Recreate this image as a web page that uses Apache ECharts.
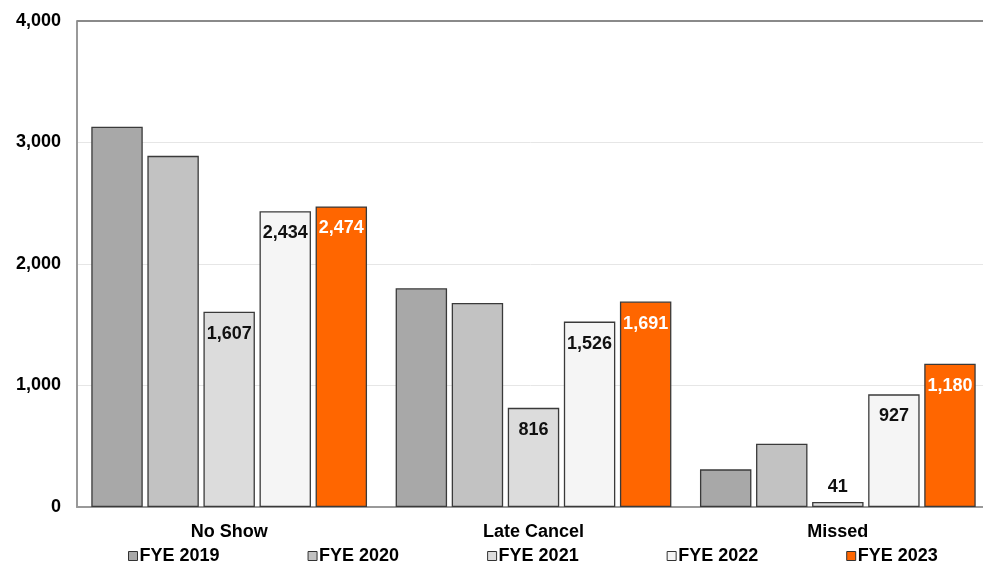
<!DOCTYPE html>
<html>
<head>
<meta charset="utf-8">
<script src="https://cdn.jsdelivr.net/npm/echarts@6/dist/echarts.min.js"></script>
<style>html,body{margin:0;padding:0;background:#fff}#c{width:983px;height:568px}</style>
</head>
<body>
<div id="c"></div>
<script>
const categories = ['No Show', 'Late Cancel', 'Missed'];
const seriesNames = ['FYE 2019', 'FYE 2020', 'FYE 2021', 'FYE 2022', 'FYE 2023'];
const fye2019 = [3130, 1800, 310];
const fye2020 = [2890, 1680, 520];
const fye2021 = [1607, 816, 41];
const fye2022 = [2434, 1526, 927];
const fye2023 = [2474, 1691, 1180];
const yTicks = [0, 1000, 2000, 3000, 4000];

const colors = ['#a8a8a8', '#c2c2c2', '#dcdcdc', '#f5f5f5', '#ff6600'];
const showLabel = [false, false, true, true, true];
const labelColor = ['#000', '#000', '#111', '#111', '#fff'];
const allData = [fye2019, fye2020, fye2021, fye2022, fye2023];
const FONT = 'Arial, "Liberation Sans", sans-serif';

const chart = echarts.init(document.getElementById('c'));
const series = seriesNames.map((name, i) => ({
  name: name,
  type: 'bar',
  barGap: '9%',
  barCategoryGap: '9.4%',
  itemStyle: { color: colors[i], borderColor: '#3a3a3a', borderWidth: 1.3 },
  label: {
    show: showLabel[i],
    position: 'insideTop',
    distance: 13,
    color: labelColor[i],
    fontWeight: 'bold',
    fontSize: 18,
    fontFamily: FONT,
    formatter: p => p.value.toLocaleString('en-US')
  },
  data: allData[i].map(v => v < 200 && showLabel[i]
    ? { value: v, label: { position: 'top', distance: 6 } }
    : v)
}));

chart.setOption({
  animation: false,
  backgroundColor: '#fff',
  grid: { left: 77, width: 913, top: 21, bottom: 61, containLabel: false, outerBoundsMode: 'none' },
  legend: {
    bottom: -2,
    left: 123,
    itemWidth: 9,
    itemHeight: 9,
    itemGap: 88,
    icon: 'rect',
    textStyle: { fontWeight: 'bold', fontSize: 18, fontFamily: FONT, color: '#000', padding: [0, 0, 0, -3] },
    data: seriesNames.map(n => ({ name: n, itemStyle: { borderColor: '#333', borderWidth: 1 } }))
  },
  xAxis: {
    type: 'category',
    data: categories,
    axisLine: { show: true, lineStyle: { color: '#999', width: 2 } },
    axisTick: { show: false },
    axisLabel: { fontWeight: 'bold', fontSize: 18, fontFamily: FONT, color: '#000', margin: 16 }
  },
  yAxis: {
    type: 'value',
    min: yTicks[0],
    max: yTicks[yTicks.length - 1],
    interval: 1000,
    axisLine: { show: true, lineStyle: { color: '#999', width: 2 } },
    axisTick: { show: false },
    axisLabel: { fontWeight: 'bold', fontSize: 18, fontFamily: FONT, color: '#000', margin: 16,
      formatter: v => v.toLocaleString('en-US') },
    splitLine: { show: true, lineStyle: { color: '#e6e6e6', width: 1 } }
  },
  graphic: [{
    type: 'line', z: 10,
    shape: { x1: 77, y1: 21, x2: 983, y2: 21 },
    style: { stroke: '#8a8a8a', lineWidth: 2 }
  }],
  series: series
});
</script>
</body>
</html>
